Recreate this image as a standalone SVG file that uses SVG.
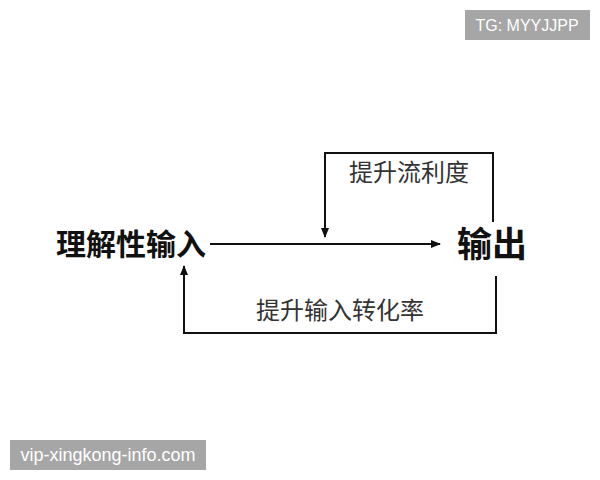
<svg xmlns="http://www.w3.org/2000/svg" width="600" height="480" viewBox="0 0 600 480">
<style>
.ln{fill:none;stroke:#111;stroke-width:2}
.lab{font-family:"Noto Sans CJK SC",sans-serif;font-size:24px;fill:#333;text-anchor:middle}
.big{font-family:"Noto Sans CJK SC",sans-serif;font-weight:bold;fill:#111}
.wm{font-family:"Liberation Sans",Arial,sans-serif;fill:#fff;text-anchor:middle}
</style>
<defs>
<marker id="ah" markerWidth="10" markerHeight="10" refX="9" refY="5" orient="auto" markerUnits="userSpaceOnUse"><path d="M0,1 L10,5 L0,9 Z" fill="#111"/></marker>
</defs>
<rect width="600" height="480" fill="#fff"/>
<g id="connectors">
<line class="ln" x1="210" y1="244" x2="440" y2="244" marker-end="url(#ah)"/>
<polyline class="ln" points="493,222 493,153 325,153 325,237" marker-end="url(#ah)"/>
<polyline class="ln" points="496,276 496,333 184,333 184,266" marker-end="url(#ah)"/>
</g>
<g id="input"><text class="big" x="56" y="255" font-size="30">理解性输入</text></g>
<g id="output"><text class="big" x="457" y="257" font-size="35">输出</text></g>
<g id="label1"><text class="lab" x="409" y="181">提升流利度</text></g>
<g id="label2"><text class="lab" x="340" y="319">提升输入转化率</text></g>
<g id="wm1"><rect x="465" y="10" width="125" height="30" fill="#a6a6a6"/><text class="wm" x="527" y="31" font-size="16">TG: MYYJJPP</text></g>
<g id="wm2"><rect x="10" y="440" width="196" height="30" fill="#a6a6a6"/><text class="wm" x="108" y="461" font-size="18">vip-xingkong-info.com</text></g>
</svg>
